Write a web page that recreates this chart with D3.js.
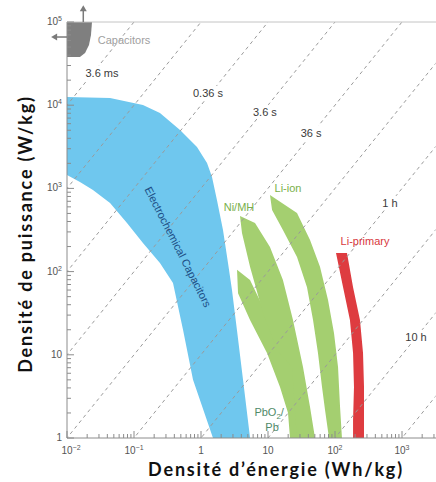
<!DOCTYPE html>
<html><head><meta charset="utf-8">
<script src="https://cdn.jsdelivr.net/npm/d3@7"></script>
<style>body{margin:0;background:#fff}svg{display:block}</style>
</head><body>
<svg id="chart" width="436" height="482"></svg>
<script>
// ---------- data ----------
const xTickValues = [1e-2, 1e-1, 1, 10, 1e2, 1e3];
const xTickBase   = ["10", "10", "1", "10", "10", "10"];
const xTickSup    = ["\u22122", "\u22121", "", "", "2", "3"];
const yTickValues = [1, 10, 1e2, 1e3, 1e4, 1e5];
const yTickBase   = ["1", "10", "10", "10", "10", "10"];
const yTickSup    = ["", "", "2", "3", "4", "5"];

// discharge-time lines (hours): P = E / t
const timeConstantsH = [1e-6, 1e-5, 1e-4, 1e-3, 1e-2, 1e-1, 1, 10, 100, 1000];
const timeLabels  = ["3.6 ms", "0.36 s", "3.6 s", "36 s", "1 h", "10 h"];
const timeLabelE  = [0.0333, 1.27, 9.0, 43.9, 662, 1620];
const timeLabelP  = [24400, 14000, 8280, 4630, 668, 16.4];

// regions (energy density Wh/kg, power density W/kg), outlines
const capacitorsE = [0.01, 0.0236, 0.0228, 0.0213, 0.0186, 0.0156, 0.01];
const capacitorsP = [1e5, 1e5, 69800, 52900, 42400, 37950, 37950];

const ecCapE = [0.01, 0.0439, 0.136, 0.244, 0.486, 0.871, 1.23, 1.46, 1.73, 2.13, 2.53, 2.90, 3.44, 4.24, 5.4,
                1.51, 0.76, 0.54, 0.382, 0.244, 0.136, 0.0786, 0.0439, 0.0244, 0.0156, 0.01];
const ecCapP = [12560, 12200, 10050, 8060, 5040, 3150, 2020, 1370, 726, 316, 127, 60, 19.9, 5.0, 1,
                1, 5.0, 19.9, 73, 127, 221, 384, 668, 957, 1194, 1449];

const nimhE = [3.82, 4.09, 5.39, 8.42, 13.6, 22.8, 27.0, 50.3, 42.4, 33.3, 23.6, 16.7, 10.7, 6.40];
const nimhP = [466, 291, 114, 31.8, 11.4, 7.13, 1, 1, 2.36, 7.13, 26.2, 79, 198, 384];

const pbE = [3.45, 3.57, 5.39, 9.66, 15.1, 19.9, 21.3, 36.0, 24.5, 19.9, 13.6, 8.42, 5.39];
const pbP = [105, 55, 26.2, 10.5, 4.10, 2.0, 1, 1, 7.13, 8.66, 18.3, 37.5, 79];

const liionE = [10.7, 11.5, 16.7, 27.1, 38.2, 47.0, 55.7, 64.0, 71.0, 81.3, 127, 119, 111, 96.6, 78.7, 59.7, 42.4, 27.1];
const liionP = [833, 550, 316, 150, 65, 26.2, 10.5, 4.10, 2.17, 1, 1, 2.36, 7.13, 18.3, 45.6, 114, 240, 506];

const liprimE = [103.5, 132, 167, 186, 192, 186, 186, 271, 271, 271, 262, 236, 186, 151];
const liprimP = [167, 65, 26.2, 10.5, 4.10, 1.65, 1, 1, 1.65, 4.10, 10.5, 26.2, 65, 167];

// region labels (text, E, P)
const regionLabelText = ["Capacitors", "Electrochemical Capacitors", "Ni/MH", "Li-ion", "Li-primary"];
const regionLabelE    = [0.071, 0.454, 3.69, 19.9, 281];
const regionLabelP    = [60800, 198, 598, 1012, 233];

// ---------- layout & scales ----------
const svg = d3.select("#chart");
const L = 67, R = 435.5, T = 22, B = 438;
const x = d3.scaleLog().domain([1e-2, Math.pow(10, 3.5)]).range([L, R]);
const y = d3.scaleLog().domain([1, 1e5]).range([B, T]);

svg.append("defs").append("clipPath").attr("id", "plotclip").append("rect")
  .attr("x", L).attr("y", T).attr("width", R - L).attr("height", B - T);

const pts = (E, P) => E.map((e, i) => [e, P[i]]);
const outline = d3.line().x(d => x(d[0])).y(d => y(d[1])).curve(d3.curveLinearClosed);

const regions = svg.append("g").attr("clip-path", "url(#plotclip)");
regions.append("path").attr("d", outline(pts(ecCapE, ecCapP))).attr("fill", "#6fc7ee");
regions.append("path").attr("d", outline(pts(pbE, pbP))).attr("fill", "#a4cf70");
regions.append("path").attr("d", outline(pts(nimhE, nimhP))).attr("fill", "#a4cf70");
regions.append("path").attr("d", outline(pts(liionE, liionP))).attr("fill", "#a4cf70");
regions.append("path").attr("d", outline(pts(liprimE, liprimP))).attr("fill", "#de3c40");
regions.append("path").attr("d", outline(pts(capacitorsE, capacitorsP))).attr("fill", "#7f7f7f");

// dashed time-constant lines
const lineG = svg.append("g").attr("clip-path", "url(#plotclip)");
const eRange = [1e-3, 1e4];
timeConstantsH.forEach(t => {
  lineG.append("line")
    .attr("x1", x(eRange[0])).attr("y1", y(eRange[0] / t))
    .attr("x2", x(eRange[1])).attr("y2", y(eRange[1] / t))
    .attr("stroke", "#9a9a9a").attr("stroke-width", 1).attr("stroke-dasharray", "3.5,3.5");
});

// time labels with white background (interrupt the lines)
const tl = svg.append("g");
timeLabels.forEach((s, i) => {
  const g = tl.append("g");
  const t = g.append("text").attr("x", x(timeLabelE[i])).attr("y", y(timeLabelP[i]))
    .attr("dy", "0.35em").attr("text-anchor", "middle")
    .attr("font-family", "Liberation Sans, Arial, sans-serif").attr("font-size", 11)
    .attr("fill", "#3a3a3a").text(s);
  const bb = t.node().getBBox();
  g.insert("rect", "text").attr("x", bb.x - 2).attr("y", bb.y - 1)
    .attr("width", bb.width + 4).attr("height", bb.height + 2).attr("fill", "#fff");
});

// region labels
const labelColors = ["#a0a0a0", "#1d4f86", "#79b04a", "#79b04a", "#d8383d"];
const lg = svg.append("g").attr("font-family", "Liberation Sans, Arial, sans-serif").attr("font-size", 11);
regionLabelText.forEach((s, i) => {
  const t = lg.append("text").attr("text-anchor", "middle").attr("dy", "0.35em")
    .attr("fill", labelColors[i]).text(s);
  const px = x(regionLabelE[i]), py = y(regionLabelP[i]);
  if (s === "Electrochemical Capacitors") {
    t.attr("transform", `translate(${px},${py}) rotate(63)`);
  } else {
    t.attr("x", px).attr("y", py);
  }
});
// PbO2 / Pb label
const pbLabel = lg.append("text").attr("text-anchor", "middle").attr("fill", "#4f8a68")
  .attr("x", x(10.4)).attr("y", y(2.05)).attr("dy", "0.35em");
pbLabel.append("tspan").text("PbO");
pbLabel.append("tspan").attr("font-size", 8).attr("dy", 3).text("2");
pbLabel.append("tspan").attr("dy", -3).text("/");
lg.append("text").attr("text-anchor", "middle").attr("fill", "#4f8a68")
  .attr("x", x(11.5)).attr("y", y(1.36)).attr("dy", "0.35em").text("Pb");

// ---------- axes ----------
const ax = svg.append("g");
const axisColor = "#8c8c8c";
ax.append("line").attr("x1", L).attr("x2", L).attr("y1", T).attr("y2", B).attr("stroke", axisColor);
ax.append("line").attr("x1", L).attr("x2", 436).attr("y1", B).attr("y2", B).attr("stroke", axisColor);
ax.append("line").attr("x1", L).attr("x2", 436).attr("y1", T).attr("y2", T).attr("stroke", "#c4c4c4");

// minor + major ticks
const xTicksAll = [], yTicksAll = [];
for (let d = -2; d <= 3; d++) for (let k = 1; k <= 9; k++) { const v = k * Math.pow(10, d); if (v <= x.domain()[1]) xTicksAll.push([v, k === 1]); }
for (let d = 0; d <= 4; d++) for (let k = 1; k <= 9; k++) yTicksAll.push([k * Math.pow(10, d), k === 1]);
yTicksAll.push([1e5, true]);
xTicksAll.forEach(([v, major]) => {
  ax.append("line").attr("x1", x(v)).attr("x2", x(v)).attr("y1", B).attr("y2", B - (major ? 7 : 4))
    .attr("stroke", axisColor);
});
yTicksAll.forEach(([v, major]) => {
  ax.append("line").attr("y1", y(v)).attr("y2", y(v)).attr("x1", L).attr("x2", L + (major ? 7 : 4))
    .attr("stroke", axisColor);
});

// tick labels
const tlab = svg.append("g").attr("font-family", "Liberation Sans, Arial, sans-serif")
  .attr("font-size", 10).attr("fill", "#555");
xTickValues.forEach((v, i) => {
  const t = tlab.append("text").attr("x", x(v) + (i === 0 ? 4 : 0)).attr("y", 454).attr("text-anchor", "middle");
  t.append("tspan").text(xTickBase[i]);
  if (xTickSup[i]) t.append("tspan").attr("font-size", 7).attr("dy", -4).text(xTickSup[i]);
});
yTickValues.forEach((v, i) => {
  const t = tlab.append("text").attr("x", 62).attr("y", y(v) + 3).attr("text-anchor", "end");
  t.append("tspan").text(yTickBase[i]);
  if (yTickSup[i]) t.append("tspan").attr("font-size", 7).attr("dy", -4).text(yTickSup[i]);
});

// arrows from the capacitors region
const arrowColor = "#7a7a7a";
const upX = x(0.0175), upY0 = y(1e5), upY1 = y(155000);
ax.append("line").attr("x1", upX).attr("x2", upX).attr("y1", upY0).attr("y2", upY1 + 4)
  .attr("stroke", arrowColor).attr("stroke-width", 1.5);
ax.append("path").attr("d", `M${upX - 3.5},${upY1 + 5} L${upX},${upY1 - 1} L${upX + 3.5},${upY1 + 5} Z`).attr("fill", arrowColor);
const lfY = y(66000), lfX0 = x(0.01), lfX1 = x(0.006);
ax.append("line").attr("x1", lfX0).attr("x2", lfX1 + 4).attr("y1", lfY).attr("y2", lfY)
  .attr("stroke", arrowColor).attr("stroke-width", 1.5);
ax.append("path").attr("d", `M${lfX1 + 5},${lfY - 3.5} L${lfX1 - 1},${lfY} L${lfX1 + 5},${lfY + 3.5} Z`).attr("fill", arrowColor);

// axis titles
const titleFont = "Lato, 'Open Sans', sans-serif";
const titleSize = 18;
const xt = svg.append("text").attr("x", 276).attr("y", 476).attr("text-anchor", "middle")
  .attr("font-family", titleFont).attr("font-weight", 700).attr("font-size", titleSize).attr("fill", "#111")
  .text("Densit\u00e9 d\u2019\u00e9nergie (Wh/kg)");
const xtText = "Densit\u00e9 d\u2019\u00e9nergie (Wh/kg)";
const w = xt.node().getComputedTextLength();
const ls = Math.max(0, (254 - w) / (xtText.length - 1));
xt.attr("letter-spacing", ls);
svg.append("text").attr("transform", `translate(32,234) rotate(-90)`).attr("text-anchor", "middle")
  .attr("font-family", titleFont).attr("font-weight", 700).attr("font-size", titleSize).attr("fill", "#111")
  .attr("letter-spacing", ls)
  .text("Densit\u00e9 de puissance (W/kg)");
</script>
</body></html>
